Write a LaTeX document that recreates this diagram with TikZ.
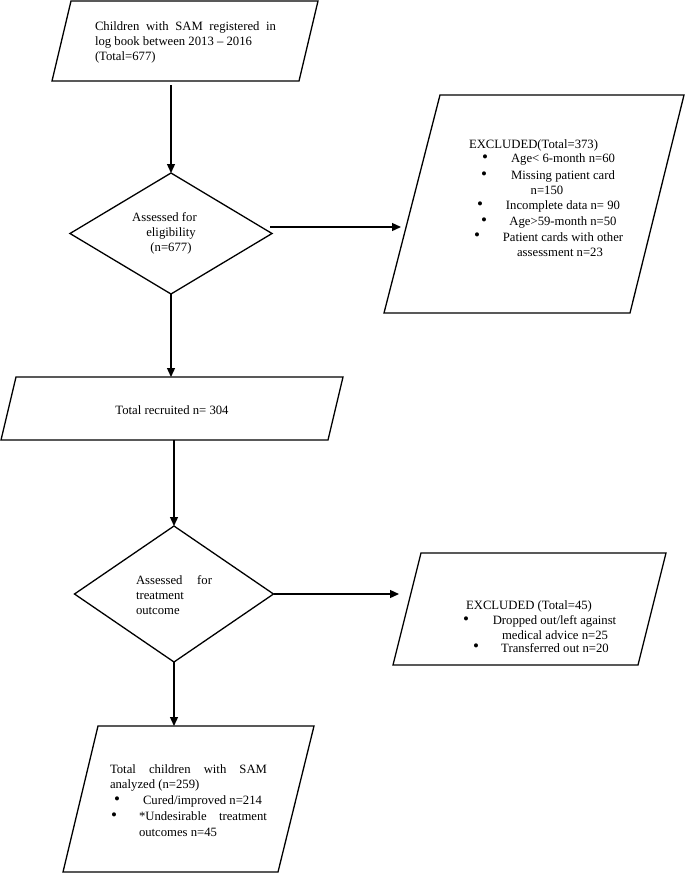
\documentclass[tikz,border=0pt]{standalone}
\usepackage{fontspec}
\setmainfont{Liberation Serif}
\usetikzlibrary{arrows.meta,shapes.geometric}
\begin{document}
\begin{tikzpicture}[x=1pt,y=-1pt,line width=1.3pt,
  every node/.style={font=\fontsize{12.7}{15.3}\selectfont,inner sep=0pt,outer sep=0pt},
  shapebox/.style={draw,line join=miter},
  decision/.style={diamond,draw,line width=1.3pt,aspect=1.67,align=center},
  flow/.style={-{Triangle[length=9pt,width=8pt]},line width=1.3pt},
  jtext/.style={align=justify,execute at begin node={\tolerance=9999\hyphenpenalty=10000}},
  bul/.style={anchor=center,font=\fontsize{17}{17}\selectfont}]
\useasboundingbox (0,0) rectangle (685,873);

% ---- top box
\coordinate (p1a) at (71,1);
\coordinate (p1b) at (318,1);
\coordinate (p1c) at (299,81);
\coordinate (p1d) at (52,81);
\draw[shapebox] (p1a) -- (p1b) -- (p1c) -- (p1d) -- cycle;
\node[text width=181pt,jtext] (start) at (185.5,42.5)
  {Children with SAM registered in log book between 2013 -- 2016\\(Total=677)};
\coordinate (startS) at (171,85);

% ---- decision 1
\node[decision,minimum width=202pt,minimum height=121pt] (elig) at (171,233.5)
  {Assessed for\hspace*{13pt}\\eligibility\\(n=677)};
\coordinate (eligR) at (270,227);

% ---- excluded box 1
\coordinate (e1a) at (440,95);
\coordinate (e1b) at (684,95);
\coordinate (e1c) at (630,313);
\coordinate (e1d) at (384,313);
\draw[shapebox] (e1a) -- (e1b) -- (e1c) -- (e1d) -- cycle;
\coordinate (ex1in) at (401,227);
\node[anchor=west] (ex1) at (469,145) {EXCLUDED(Total=373)};
\node[bul] (b11) at (485,159) {\textbullet};
\node (t11) at (563,159) {Age< 6-month n=60};
\node[bul] (b12) at (484,176) {\textbullet};
\node (t12) at (563,176) {Missing patient card};
\node (t12b) at (547,190) {n=150};
\node[bul] (b13) at (480,206) {\textbullet};
\node (t13) at (563,206) {Incomplete data n= 90};
\node[bul] (b14) at (484,222) {\textbullet};
\node (t14) at (563,222) {Age>59-month n=50};
\node[bul] (b15) at (477,237) {\textbullet};
\node (t15) at (563,237) {Patient cards with other};
\node (t15b) at (560,252) {assessment n=23};

% ---- total recruited
\coordinate (r1a) at (16,377);
\coordinate (r1b) at (343,377);
\coordinate (r1c) at (328,440);
\coordinate (r1d) at (1,440);
\draw[shapebox] (r1a) -- (r1b) -- (r1c) -- (r1d) -- cycle;
\node (recr) at (172,410) {Total recruited n= 304};
\coordinate (recrN) at (171,377);
\coordinate (recrS) at (174,440);

% ---- decision 2
\node[decision,minimum width=199pt,minimum height=136pt] (treat) at (174,594) {};
\node[text width=76pt,jtext] (treatT) at (174,595) {Assessed for treatment outcome};

% ---- excluded box 2
\coordinate (e2a) at (421,553);
\coordinate (e2b) at (666,553);
\coordinate (e2c) at (638,665);
\coordinate (e2d) at (393,665);
\draw[shapebox] (e2a) -- (e2b) -- (e2c) -- (e2d) -- cycle;
\coordinate (ex2in) at (399,594);
\node (ex2) at (529,606) {EXCLUDED (Total=45)};
\node[bul] (b21) at (466,621) {\textbullet};
\node (t21) at (554.5,621) {Dropped out/left against};
\node (t21b) at (555,635) {medical advice n=25};
\node[bul] (b22) at (476,648) {\textbullet};
\node (t22) at (555,648) {Transferred out n=20};

% ---- final box
\coordinate (f1a) at (98,726);
\coordinate (f1b) at (314,726);
\coordinate (f1c) at (278,872);
\coordinate (f1d) at (63,872);
\draw[shapebox] (f1a) -- (f1b) -- (f1c) -- (f1d) -- cycle;
\coordinate (finN) at (174,726);
\node[text width=157pt,jtext,anchor=west] (fin) at (110,778)
  {Total children with SAM analyzed (n=259)};
\node[bul] (b31) at (117,801) {\textbullet};
\node[anchor=west] (t31) at (143,801) {Cured/improved n=214};
\node[bul] (b32) at (114,817) {\textbullet};
\node[text width=128pt,jtext,anchor=west] (t32) at (139,824)
  {*Undesirable treatment outcomes n=45};

% ---- connectors
\draw[flow] (startS) -- (elig.north);
\draw[flow] (eligR) -- (ex1in);
\draw[flow] (elig.south) -- (recrN);
\draw[flow] (recrS) -- (treat.north);
\draw[flow] (treat.east) -- (ex2in);
\draw[flow] (treat.south) -- (finN);
\end{tikzpicture}
\end{document}
